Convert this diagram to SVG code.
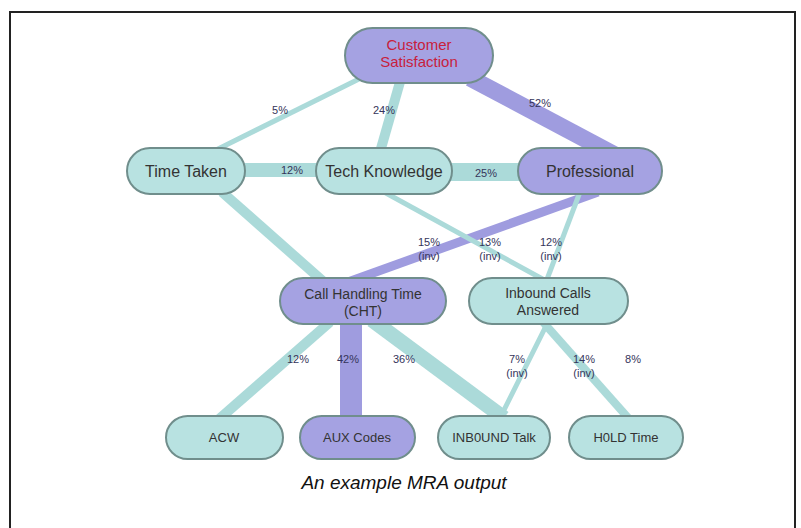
<svg xmlns="http://www.w3.org/2000/svg" width="801" height="528" viewBox="0 0 801 528">
  <style>
    .teal { fill: #b8e2e1; stroke: #708e8c; stroke-width: 2; }
    .purp { fill: #a5a2e2; stroke: #708e8c; stroke-width: 2; }
    .lbl { font-family: "Liberation Sans", Arial, sans-serif; font-size: 16px; fill: #333; text-anchor: middle; }
    .mid { font-family: "Liberation Sans", Arial, sans-serif; font-size: 14px; fill: #333; text-anchor: middle; }
    .small { font-family: "Liberation Sans", Arial, sans-serif; font-size: 13px; fill: #333; text-anchor: middle; }
    .head { font-family: "Liberation Sans", Arial, sans-serif; font-size: 15px; fill: #c8203c; text-anchor: middle; }
    .pct { font-family: "Liberation Sans", Arial, sans-serif; font-size: 11px; fill: #34345a; text-anchor: middle; }
    .et { stroke: #abdad9; fill: none; stroke-linecap: butt; }
    .ep { stroke: #9f9cdf; fill: none; stroke-linecap: butt; }
  </style>

  <rect width="801" height="528" fill="#ffffff"/>
  <!-- outer frame -->
  <rect x="10" y="12" width="785" height="530" fill="none" stroke="#222" stroke-width="2"/>

  <!-- connectors -->
  <g id="connectors">
    <line class="et" x1="365" y1="76" x2="212" y2="152" stroke-width="5"/>
    <line class="et" x1="400" y1="82" x2="380" y2="152" stroke-width="10"/>
    <line class="ep" x1="470" y1="78" x2="615" y2="155" stroke-width="17"/>
    <line class="et" x1="240" y1="170" x2="320" y2="170" stroke-width="14"/>
    <line class="et" x1="448" y1="172" x2="522" y2="172" stroke-width="18"/>
    <line class="et" x1="222" y1="192" x2="325" y2="283" stroke-width="10"/>
    <line class="ep" x1="598" y1="192" x2="348" y2="282" stroke-width="9"/>
    <line class="et" x1="384" y1="192" x2="548" y2="282" stroke-width="5"/>
    <line class="et" x1="580" y1="192" x2="546" y2="282" stroke-width="5"/>
    <line class="et" x1="330" y1="322" x2="218" y2="420" stroke-width="10"/>
    <line class="ep" x1="351" y1="322" x2="351" y2="420" stroke-width="22"/>
    <line class="et" x1="372" y1="320" x2="504" y2="418" stroke-width="15"/>
    <line class="et" x1="548" y1="322" x2="500" y2="418" stroke-width="5"/>
    <line class="et" x1="543" y1="322" x2="630" y2="420" stroke-width="8"/>
  </g>

  <!-- connector labels -->
  <g id="edge-labels">
    <text class="pct" x="280" y="114">5%</text>
    <text class="pct" x="384" y="114">24%</text>
    <text class="pct" x="540" y="107">52%</text>
    <text class="pct" x="292" y="174">12%</text>
    <text class="pct" x="486" y="177">25%</text>
    <text class="pct" x="429" y="246">15%</text>
    <text class="pct" x="429" y="260">(inv)</text>
    <text class="pct" x="490" y="246">13%</text>
    <text class="pct" x="490" y="260">(inv)</text>
    <text class="pct" x="551" y="246">12%</text>
    <text class="pct" x="551" y="260">(inv)</text>
    <text class="pct" x="298" y="363">12%</text>
    <text class="pct" x="348" y="363">42%</text>
    <text class="pct" x="404" y="363">36%</text>
    <text class="pct" x="517" y="363">7%</text>
    <text class="pct" x="517" y="377">(inv)</text>
    <text class="pct" x="584" y="363">14%</text>
    <text class="pct" x="584" y="377">(inv)</text>
    <text class="pct" x="633" y="363">8%</text>
  </g>

  <g id="customer-satisfaction">
    <rect class="purp" x="345" y="28" width="148" height="55" rx="27.5"/>
    <text class="head" x="419" y="50">Customer</text>
    <text class="head" x="419" y="67">Satisfaction</text>
  </g>

  <g id="time-taken">
    <rect class="teal" x="127" y="148" width="118" height="46" rx="23"/>
    <text class="lbl" x="186" y="177">Time Taken</text>
  </g>

  <g id="tech-knowledge">
    <rect class="teal" x="316" y="148" width="136" height="46" rx="23"/>
    <text class="lbl" x="384" y="177">Tech Knowledge</text>
  </g>

  <g id="professional">
    <rect class="purp" x="518" y="148" width="144" height="46" rx="23"/>
    <text class="lbl" x="590" y="177">Professional</text>
  </g>

  <g id="cht">
    <rect class="purp" x="280" y="278" width="166" height="46" rx="23"/>
    <text class="mid" x="363" y="299">Call Handling Time</text>
    <text class="mid" x="363" y="316">(CHT)</text>
  </g>

  <g id="inbound-calls">
    <rect class="teal" x="469" y="278" width="159" height="46" rx="23"/>
    <text class="mid" x="548" y="298">Inbound Calls</text>
    <text class="mid" x="548" y="315">Answered</text>
  </g>

  <g id="acw">
    <rect class="teal" x="166" y="416" width="117" height="43" rx="21.5"/>
    <text class="small" x="224" y="442">ACW</text>
  </g>

  <g id="aux-codes">
    <rect class="purp" x="300" y="416" width="115" height="43" rx="21.5"/>
    <text class="small" x="357" y="442">AUX Codes</text>
  </g>

  <g id="inbound-talk">
    <rect class="teal" x="438" y="416" width="112" height="43" rx="21.5"/>
    <text class="small" x="494" y="442">INB0UND Talk</text>
  </g>

  <g id="hold-time">
    <rect class="teal" x="569" y="416" width="114" height="43" rx="21.5"/>
    <text class="small" x="626" y="442">H0LD Time</text>
  </g>

  <text x="404" y="489" font-family="'Liberation Sans', Arial, sans-serif" font-size="19" font-style="italic" fill="#111" text-anchor="middle">An example MRA output</text>
</svg>
